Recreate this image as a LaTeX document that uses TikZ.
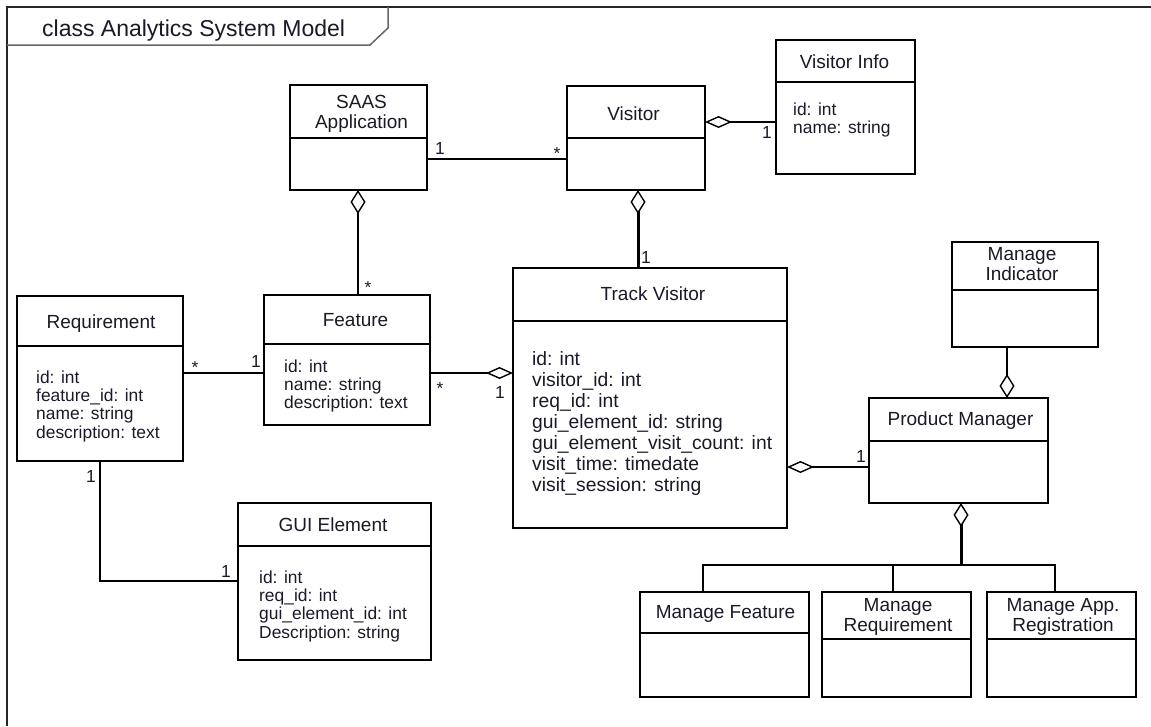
\documentclass[tikz,border=0pt]{standalone}
\usepackage{fontspec}
\setmainfont{Liberation Sans}
\usetikzlibrary{arrows.meta,calc}
\definecolor{txt}{RGB}{25,25,40}
\tikzset{
  aggh/.tip={Diamond[fill=white,length=27pt 0 1,width=12pt 0 1,line width=1.4pt]},
  aggv/.tip={Diamond[fill=white,length=24pt 0 1,width=15pt 0 1,line width=1.4pt]}
}
\begin{document}
\begin{tikzpicture}[x=1pt,y=-1pt,
  box/.style={draw,line width=2.6pt,inner sep=0pt,outer sep=0pt},
  divl/.style={line width=2.4pt},
  ttl/.style={font=\fontsize{19}{20}\selectfont,text=txt,inner sep=0pt,anchor=base},
  ttltwo/.style={font=\fontsize{19}{20}\selectfont,text=txt,inner sep=0pt,anchor=north,align=center},
  attr/.style={font=\fontsize{17.4}{18.3}\selectfont,text=txt,inner sep=0pt,anchor=north west,align=left},
  attrbig/.style={font=\fontsize{19.3}{21}\selectfont,text=txt,inner sep=0pt,anchor=north west,align=left},
  mult/.style={font=\fontsize{17.4}{18}\selectfont,text=txt,inner sep=0pt,anchor=base},
  conn/.style={line width=2pt},
  heavy/.style={line width=3pt}
]
\useasboundingbox (0,0) rectangle (1151,726);

% frame
\draw[line width=2.5pt,black!85] (1151,7) -- (7,7) -- (7,726);
\draw[line width=1.5pt,black!60] (7,45) -- (370,45) -- (388,28) -- (388,7);
\node[font=\fontsize{23}{25}\selectfont,text=txt,anchor=base west,inner sep=0pt] (frametitle) at (42,36) {class Analytics System Model};

% SAAS Application
\node[box,minimum width=137pt,minimum height=105pt] (saas) at (358.5,137.5) {};
\draw[divl] (290,138) -- (427,138);
\node[ttltwo] (saasT) at (361.5,95) {SAAS\\Application};

% Visitor
\node[box,minimum width=138pt,minimum height=104pt] (visitor) at (636,138) {};
\draw[divl] (567,138) -- (705,138);
\node[ttl] (visitorT) at (633.5,120) {Visitor};

% Visitor Info
\node[box,minimum width=139pt,minimum height=134pt] (vinfo) at (845.5,107) {};
\draw[divl] (776,82) -- (915,82);
\node[ttl] (vinfoT) at (844.5,68) {Visitor Info};
\node[attr] (vinfoA) at (793,102.3) {id: int\\name: string};

% Track Visitor
\node[box,minimum width=274pt,minimum height=260pt] (track) at (650,398) {};
\draw[divl] (513,321) -- (787,321);
\node[ttl] (trackT) at (653,300) {Track Visitor};
\node[attrbig] (trackA) at (532,351) {id: int\\visitor\_id: int\\req\_id: int\\gui\_element\_id: string\\gui\_element\_visit\_count: int\\visit\_time: timedate\\visit\_session: string};

% Feature
\node[box,minimum width=166pt,minimum height=130pt] (feature) at (347,360) {};
\draw[divl] (264,344) -- (430,344);
\node[ttl] (featureT) at (355.5,326) {Feature};
\node[attr] (featureA) at (284,359.3) {id: int\\name: string\\description: text};

% Requirement
\node[box,minimum width=166pt,minimum height=165pt] (req) at (100,378.5) {};
\draw[divl] (17,346) -- (183,346);
\node[ttl] (reqT) at (101,328) {Requirement};
\node[attr] (reqA) at (36,370.3) {id: int\\feature\_id: int\\name: string\\description: text};

% GUI Element
\node[box,minimum width=193pt,minimum height=157pt] (gui) at (334.5,581.5) {};
\draw[divl] (238,546) -- (431,546);
\node[ttl] (guiT) at (333,531) {GUI Element};
\node[attr] (guiA) at (259,570.3) {id: int\\req\_id: int\\gui\_element\_id: int\\Description: string};

% Manage Indicator
\node[box,minimum width=146pt,minimum height=105pt] (mind) at (1025,294.5) {};
\draw[divl] (952,290) -- (1098,290);
\node[ttltwo] (mindT) at (1022,247) {Manage\\Indicator};

% Product Manager
\node[box,minimum width=179pt,minimum height=105pt] (pm) at (958.5,450.5) {};
\draw[divl] (869,441) -- (1048,441);
\node[ttl] (pmT) at (960.5,425) {Product Manager};

% Manage Feature
\node[box,minimum width=169pt,minimum height=105pt] (mf) at (724.5,644.5) {};
\draw[divl] (640,633) -- (809,633);
\node[ttl] (mfT) at (725.5,618) {Manage Feature};

% Manage Requirement
\node[box,minimum width=149pt,minimum height=105pt] (mr) at (896.5,644.5) {};
\draw[divl] (822,639) -- (971,639);
\node[ttltwo] (mrT) at (898,598) {Manage\\Requirement};

% Manage App. Registration
\node[box,minimum width=149pt,minimum height=105pt] (ma) at (1061.5,644.5) {};
\draw[divl] (987,639) -- (1136,639);
\node[ttltwo] (maT) at (1063,598) {Manage App.\\Registration};

% connectors
\draw[conn] ($(saas.north east)+(0,74)$) -- ($(visitor.north west)+(0,73)$);
\draw[conn,-{aggh}] ($(vinfo.north west)+(0,82)$) -- ($(visitor.north east)+(0,36)$);
\draw[heavy,-{aggv}] ($(track.north west)+(125,0)$) -- ($(visitor.south west)+(71,0)$);
\draw[conn,-{aggv}] ($(feature.north west)+(94,0)$) -- ($(saas.south west)+(68,0)$);
\draw[conn] ($(req.north east)+(0,77)$) -- ($(feature.north west)+(0,78)$);
\draw[conn,-{aggh}] ($(feature.north east)+(0,78)$) -- ($(track.north west)+(0,105)$);
\draw[conn] ($(req.south west)+(83,0)$) |- ($(gui.north west)+(0,78)$);
\draw[conn,-{aggh}] ($(pm.north west)+(0,69)$) -- ($(track.north east)+(0,199)$);
\draw[conn,-{aggv}] ($(mind.south west)+(55,0)$) -- ($(pm.north west)+(138,0)$);
\coordinate (bus) at (961,565);
\draw[heavy,{aggv}-] ($(pm.south west)+(92,0)$) -- (bus);
\draw[conn] ($(mf.north west)+(63,0)$) |- (bus);
\draw[conn] ($(mr.north west)+(71,0)$) |- (bus);
\draw[conn] ($(ma.north west)+(68,0)$) |- (bus);

% multiplicities
\node[mult] (m1) at (440,154) {1};
\node[mult] (m2) at (557,159) {*};
\node[mult] (m3) at (767,138) {1};
\node[mult] (m4) at (646,263) {1};
\node[mult] (m5) at (368,293) {*};
\node[mult] (m6) at (195,373) {*};
\node[mult] (m7) at (256,367) {1};
\node[mult] (m8) at (440,394) {*};
\node[mult] (m9) at (500,398) {1};
\node[mult] (m10) at (91,482) {1};
\node[mult] (m11) at (226,577) {1};
\node[mult] (m12) at (861,462) {1};
\end{tikzpicture}
\end{document}
